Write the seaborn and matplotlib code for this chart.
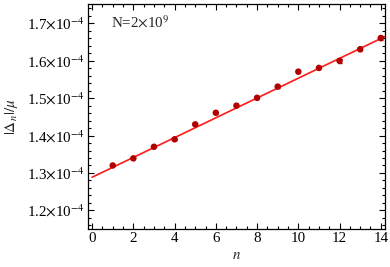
import numpy as np
import pandas as pd
import seaborn as sns
import matplotlib
matplotlib.use("Agg")
import matplotlib.pyplot as plt
import matplotlib.ticker as mtick

# values
n_vals = [1, 2, 3, 4, 5, 6, 7, 8, 9, 10, 11, 12, 13, 14]
delta_mu = [1.320, 1.339, 1.370, 1.390, 1.430, 1.461, 1.480,
            1.501, 1.531, 1.571, 1.581, 1.600, 1.631, 1.661]  # x 1e-4
delta_err = [0.001, 0.001, 0.0015, 0.0015, 0.002, 0.002, 0.003,
             0.003, 0.003, 0.004, 0.004, 0.005, 0.005, 0.006]  # x 1e-4
fit_intercept = 1.2885  # x 1e-4
fit_slope = 0.0265      # x 1e-4 per n
fit_range = [0, 14.2]
y_ticks = [1.2, 1.3, 1.4, 1.5, 1.6, 1.7]
x_ticks = [0, 2, 4, 6, 8, 10, 12, 14]
label_text = r"N=2$\times$10$^{9}$"

sns.set_theme(style="ticks")
plt.rcParams["font.family"] = ["Liberation Serif", "DejaVu Serif"]
plt.rcParams["mathtext.fontset"] = "stix"
FS = 10.8


def main():
    df = pd.DataFrame({
        "n": n_vals,
        "val": np.array(delta_mu) * 1e-4,
        "err": np.array(delta_err) * 1e-4,
    })
    fit_x = np.array(fit_range)
    fit = pd.DataFrame({"n": fit_x,
                        "val": (fit_intercept + fit_slope * fit_x) * 1e-4})

    fig = plt.figure(figsize=(3.9, 2.67), dpi=100)
    ax = fig.add_axes([0.2256, 0.1423, 0.7614, 0.8427])

    sns.lineplot(x="n", y="val", data=fit, color="#ff1a1a", lw=1.2, ax=ax,
                 zorder=2)
    ax.errorbar(df["n"], df["val"], yerr=df["err"], fmt="none",
                ecolor="#b00000", elinewidth=1.2, capsize=1.5, zorder=3)
    sns.scatterplot(x="n", y="val", data=df, color="#b00000", s=22,
                    edgecolor="none", ax=ax, zorder=4)

    ax.set_xlim(-0.2, 14.2)
    ax.set_ylim(1.15e-4, 1.752e-4)
    ax.set_xticks(x_ticks)
    ax.xaxis.set_minor_locator(mtick.MultipleLocator(0.5))
    ax.set_yticks(np.array(y_ticks) * 1e-4)
    ax.yaxis.set_minor_locator(mtick.MultipleLocator(0.02e-4))
    ax.yaxis.set_major_formatter(mtick.FuncFormatter(
        lambda v, p: r"%.1f$\times$10$^{-4}$" % (v * 1e4)))

    ax.tick_params(which="both", direction="in", top=True, right=True,
                   colors="black", labelsize=FS, width=0.8)
    ax.tick_params(which="major", length=4, pad=2)
    ax.tick_params(which="minor", length=2)
    for s in ax.spines.values():
        s.set_linewidth(0.9)
        s.set_color("black")

    ax.set_xlabel(r"$n$", fontsize=FS, labelpad=3)
    ax.set_ylabel(r"$|\Delta_n|/\mu$", fontsize=FS, labelpad=5)
    ax.text(0.077, 0.92, label_text, transform=ax.transAxes,
            fontsize=FS, va="center", ha="left")

    fig.savefig("out.png", dpi=100)


if __name__ == "__main__":
    main()
